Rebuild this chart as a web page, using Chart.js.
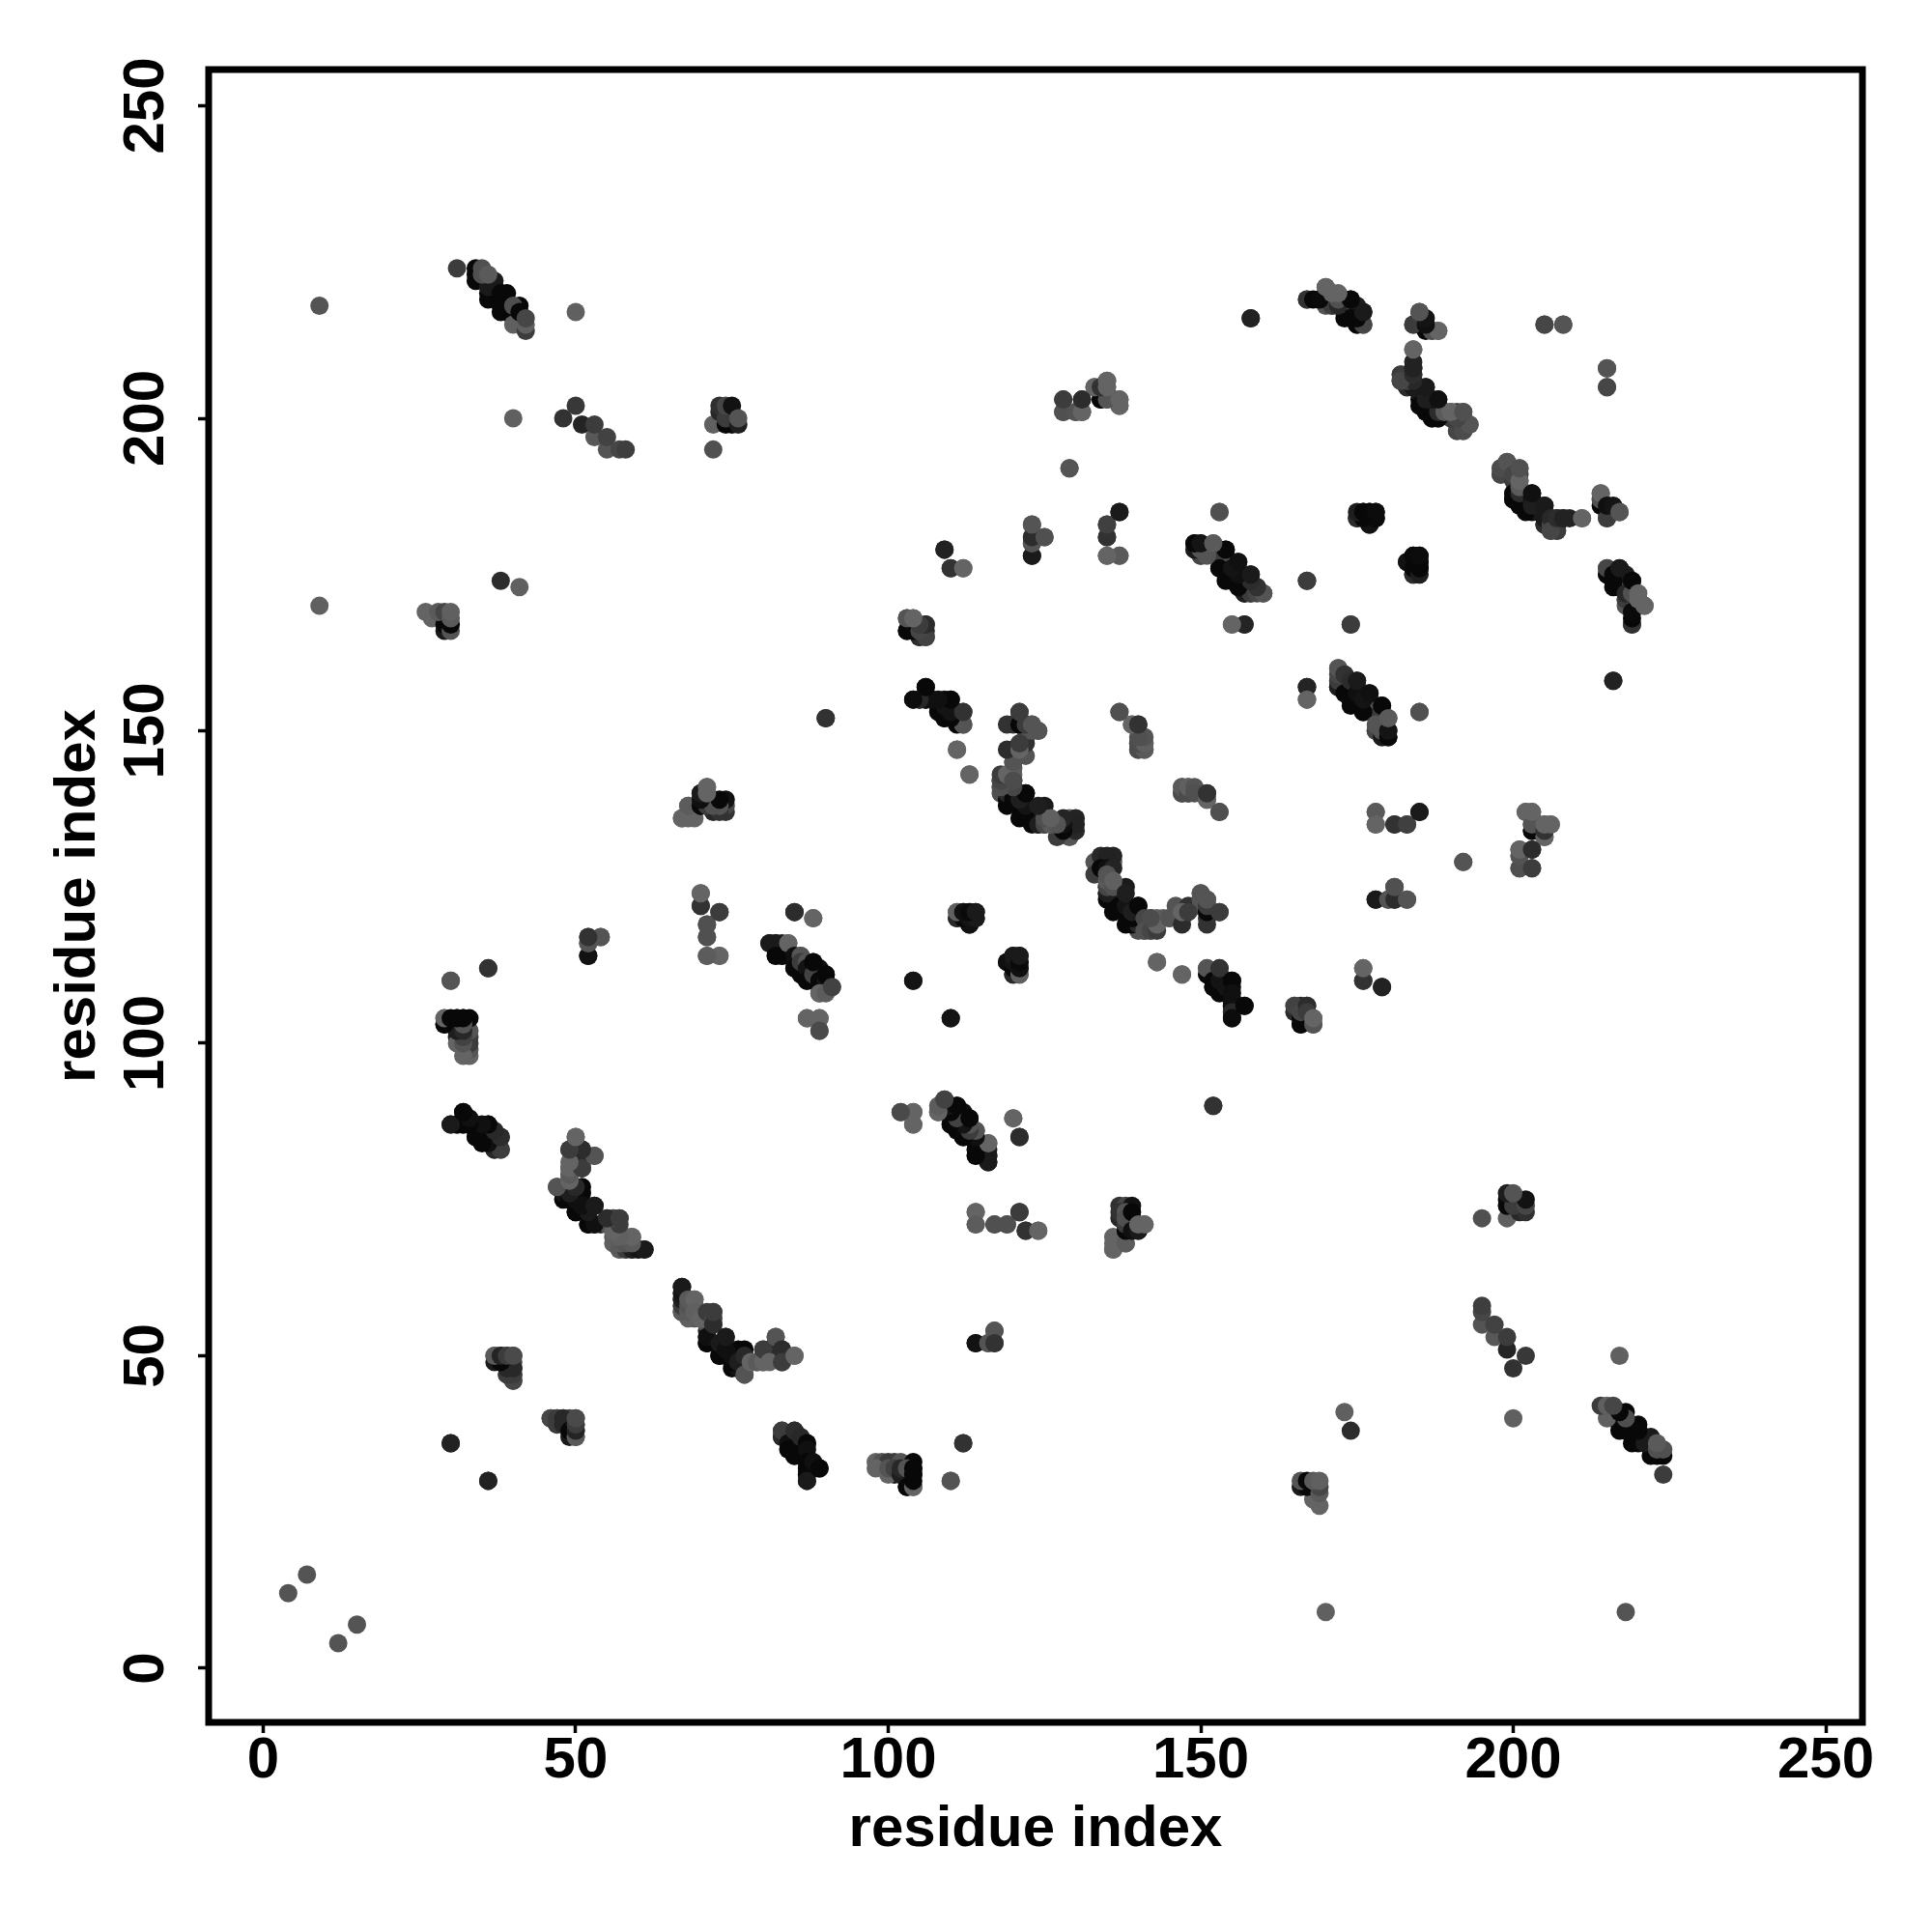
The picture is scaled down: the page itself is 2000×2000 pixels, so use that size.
<!DOCTYPE html>
<html>
<head>
<meta charset="utf-8">
<title>contact map</title>
<script src="https://cdn.jsdelivr.net/npm/chart.js@4"></script>
<style>
    html, body { margin: 0; padding: 0; background: #fff; }
</style>
</head>
<body>
<canvas id="graph" width="2000" height="2000"></canvas>
<script>
// contact pairs, one line per cluster. each pair is plotted both ways (i,j) and (j,i)
const residueA = [
    31,34,34,34,36,36,36,38,38,37,37,35,35,36,39,38,39,40,40,40,42,42,41,40,41,42,
    9,9,50,40,41,38,90,4,7,
    48,50,51,53,53,55,55,57,58,
    72,72,74,75,73,73,74,74,76,75,76,
    26,27,29,29,28,29,30,30,30,30,
    67,69,68,70,70,70,72,71,72,73,71,74,74,74,
    70,70,73,71,71,71,73,52,52,54,52,30,36,
    29,29,30,31,31,31,31,32,33,33,33,33,33,33,
    30,31,32,33,32,34,34,35,36,35,36,37,38,38,
    47,48,48,49,49,49,49,49,50,50,51,51,51,53,51,50,50,51,52,52,53,53,54,55,55,56,56,56,56,57,57,58,58,58,59,59,60,61,
    67,67,67,67,67,68,68,68,69,69,70,71,71,71,72,72,72,73,73,74,74,75,75,76,77,77,77,78,79,80,80,81,82,83,83,85,
    37,38,38,39,39,40,40,40,40,40,
    46,47,47,48,48,49,49,50,50,50,50,30,36,
    83,83,84,84,85,85,85,86,86,87,87,87,87,87,87,88,89,
    98,100,101,102,102,103,103,104,104,104,104,110,112,
    102,104,104,108,109,110,110,110,111,111,112,112,113,114,114,114,114,115,116,116,116,116,120,121,
    114,114,117,119,121,122,124,114,116,117,117,
    136,136,138,137,138,138,138,138,139,139,140,140,141,
    128,128,131,130,131,133,134,134,135,135,135,135,136,137,137,129,
    109,110,112,123,123,123,123,125,135,135,137,135,137,153,
    149,149,150,150,152,151,152,153,153,154,155,155,155,156,157,157,158,158,159,160,155,157,167,174,
    103,104,103,104,105,105,106,106,106,
    104,105,106,106,107,108,109,109,110,110,111,111,111,112,112,111,113,
    118,118,118,119,119,119,120,120,120,120,120,120,120,121,121,121,121,122,122,122,122,122,122,123,123,124,123,124,124,125,125,125,127,128,129,129,130,130,130,
    137,139,140,140,140,141,141,147,147,148,148,149,149,151,151,153,
    111,111,112,112,113,113,113,114,114,119,120,120,120,120,121,121,121,121,104,110,
    133,134,135,136,135,135,135,135,135,136,136,137,138,138,139,139,140,141,141,142,143,143,142,145,147,147,148,150,151,151,151,151,153,143,147,
    151,152,152,153,153,153,154,155,155,155,155,155,155,157,
    165,165,166,166,166,167,167,168,168,152,
    167,169,170,171,171,170,171,172,172,173,173,174,174,175,175,175,176,176,158,
    184,185,185,186,186,187,188,184,205,208,215,215,
    182,182,183,183,184,184,184,185,185,186,186,186,186,187,188,188,188,189,190,191,191,192,192,192,193,
    198,198,199,200,200,200,200,201,201,201,201,202,203,203,203,205,205,205,206,206,207,206,207,208,209,211,
    214,214,215,215,216,217,
    175,176,176,177,177,178,178,
    183,184,184,184,185,185,185,185,
    215,215,216,216,216,217,218,218,218,219,219,219,219,219,220,220,221,216,
    172,172,172,172,173,173,174,174,174,175,175,176,176,177,178,178,179,179,179,180,180,180,167,167,185,
    178,178,181,183,185,192,178,180,181,181,183,176,176,179,
    202,203,203,203,205,205,205,206,201,201,201,203,203,
    81,82,83,82,83,84,85,85,86,86,87,87,87,88,88,89,90,90,89,90,91,85,88,87,89,89
];

const residueB = [
    224,224,223,222,219,220,221,218,217,221,222,224,223,223,220,220,218,216,217,215,214,215,218,218,217,216,
    218,170,217,200,173,174,152,12,15,
    200,202,199,197,199,195,197,195,195,
    199,195,199,199,201,202,200,202,199,202,200,
    169,168,166,167,169,169,166,167,168,169,
    136,136,138,138,139,140,137,138,139,138,141,137,138,139,
    122,124,121,119,117,114,114,117,116,117,114,110,112,
    103,104,103,102,101,100,104,104,98,99,100,101,102,104,
    87,87,87,87,89,87,85,85,84,86,87,83,83,85,
    77,75,76,77,78,79,80,83,83,85,83,81,80,82,76,73,74,74,73,71,74,71,71,71,72,72,70,69,68,72,67,67,68,69,69,67,67,67,
    57,58,59,60,61,57,58,59,59,57,56,52,53,57,56,55,57,50,52,51,53,49,50,49,51,50,47,49,49,49,51,49,53,51,49,50,
    50,49,50,47,50,46,47,48,49,50,
    40,40,39,40,39,37,38,37,38,39,40,36,30,
    37,38,36,35,38,35,34,37,34,36,35,33,32,31,30,33,32,
    32,32,32,31,32,29,32,29,30,31,32,30,36,
    89,89,87,89,91,87,88,89,86,90,85,89,88,84,82,83,86,82,83,81,82,84,88,85,
    73,71,71,71,73,70,70,52,52,54,52,
    67,68,68,73,73,70,71,72,70,73,70,71,71,
    203,201,203,201,201,205,205,203,206,205,204,203,203,202,203,192,
    179,176,176,183,180,181,178,181,183,181,185,178,178,185,
    179,180,180,178,180,179,179,176,178,179,174,176,177,177,172,175,172,175,173,172,167,167,174,167,
    168,168,166,167,166,165,165,166,167,
    155,155,155,157,155,154,155,152,155,154,151,153,152,151,153,147,143,
    140,141,142,138,139,140,141,142,143,144,145,147,151,153,139,138,136,140,146,148,149,150,151,150,151,150,137,137,135,135,136,138,135,135,136,133,134,136,135,
    153,151,151,147,148,147,148,140,141,140,141,141,140,139,140,137,
    120,121,120,121,119,120,121,120,121,113,111,112,113,114,111,112,113,114,110,104,
    127,128,128,128,123,124,125,126,127,125,126,122,122,124,120,121,122,120,118,118,118,119,120,120,119,121,121,124,119,121,122,123,121,113,111,
    112,110,109,108,110,112,109,110,108,107,106,105,104,106,
    105,106,103,104,105,106,105,103,104,90,
    219,219,219,219,218,221,220,219,218,217,218,216,219,215,216,218,215,217,216,
    215,215,217,214,215,214,214,211,215,215,208,205,
    206,207,205,207,206,207,208,203,204,201,202,203,205,200,200,202,203,201,201,198,201,198,200,201,199,
    191,192,193,190,191,188,187,188,189,190,192,185,187,186,188,183,184,186,183,184,182,182,184,184,184,184,
    187,188,184,186,186,185,
    184,184,185,183,185,184,185,
    177,175,176,178,175,176,177,178,
    175,176,173,174,175,176,170,171,172,167,168,169,172,174,171,172,170,158,
    157,158,159,160,156,159,154,155,158,156,158,153,155,156,150,151,149,150,154,149,150,152,157,155,153,
    137,135,135,135,137,129,123,123,123,125,123,110,112,109,
    137,134,135,137,133,134,135,135,128,130,131,128,131,
    116,116,115,114,114,116,114,112,114,113,113,112,110,111,113,110,110,111,108,108,109,121,120,104,104,102
];

// grey level of each contact
const shade = [
    60,8,8,8,8,8,26,8,8,26,26,80,80,90,8,8,8,8,8,96,60,96,8,78,8,70,
    84,96,96,96,96,44,48,84,84,
    50,56,36,88,60,84,66,70,62,
    96,80,8,8,40,48,60,70,30,18,84,
    100,100,26,8,90,70,84,8,90,96,
    100,100,100,40,40,50,40,26,50,44,100,50,70,18,
    50,100,44,80,84,100,100,60,100,100,26,96,60,
    30,100,8,8,26,100,30,16,100,84,60,60,84,8,
    26,26,8,8,8,30,8,8,8,60,16,8,64,44,
    76,8,20,100,92,92,100,60,84,100,44,44,60,90,8,8,8,40,50,8,26,60,40,84,84,84,84,90,96,60,100,80,70,90,100,30,60,34,
    90,60,30,20,26,90,84,90,100,96,100,8,16,60,70,44,60,8,26,16,26,8,16,30,8,40,84,100,90,100,60,100,84,44,60,100,
    80,50,40,50,60,60,60,64,70,66,
    70,60,60,40,40,26,8,90,36,60,74,34,34,
    40,60,16,8,44,8,8,40,8,8,16,8,8,8,26,16,8,
    100,84,66,30,40,8,84,100,8,8,8,84,50,
    76,100,100,96,80,8,30,20,8,16,8,16,8,8,84,60,66,26,30,26,30,100,100,50,
    100,92,80,80,60,50,100,18,84,84,50,
    100,100,92,50,84,8,60,80,16,8,26,100,100,
    50,84,44,84,84,100,40,8,100,100,96,84,84,84,100,84,
    30,66,100,84,84,50,16,84,64,40,26,100,100,80,
    84,16,16,90,80,60,20,8,60,16,8,40,80,16,8,84,66,16,44,84,96,36,60,60,
    80,100,8,50,8,66,74,40,44,
    20,40,8,8,8,8,16,8,20,8,8,34,30,100,50,100,100,
    80,90,100,8,8,40,70,80,100,92,84,40,50,66,30,8,8,8,84,50,50,84,26,84,84,100,30,30,8,30,20,26,84,50,100,84,40,36,34,
    80,100,46,76,76,92,100,76,90,76,96,84,80,100,50,80,
    30,100,16,16,20,8,20,16,18,16,40,8,20,26,96,16,10,26,20,20,
    60,8,16,36,8,30,70,90,84,80,96,8,20,30,8,30,8,70,80,70,60,100,76,84,44,100,60,84,50,8,60,84,60,100,100,
    84,8,8,8,20,50,20,8,16,16,16,40,12,8,
    44,66,8,8,70,44,60,84,100,50,
    60,26,60,80,100,100,100,96,80,30,84,8,16,26,8,30,74,26,44,
    70,40,84,8,16,92,100,100,72,84,84,70,
    70,84,8,50,60,26,34,8,26,8,16,60,16,8,26,60,16,50,84,84,66,70,70,80,100,
    70,76,84,60,70,8,8,44,90,100,80,8,20,30,16,44,26,26,70,40,60,70,44,34,34,100,
    80,100,60,16,20,84,
    50,8,8,18,16,8,10,
    18,44,8,10,30,8,8,12,
    8,70,8,8,8,26,84,60,40,50,8,10,80,8,100,100,100,34,
    30,60,70,84,8,50,8,8,44,16,26,8,20,16,70,84,26,84,8,8,20,90,36,100,80,
    90,100,50,64,26,84,26,84,44,80,84,50,100,34,
    100,8,84,100,100,50,100,100,80,84,100,60,44,
    26,26,26,8,8,100,16,8,84,60,84,20,8,66,8,8,20,8,100,92,66,44,100,100,100,74
];

const xTicks = [0, 50, 100, 150, 200, 250];
const yTicks = [0, 50, 100, 150, 200, 250];
const axisLabel = 'residue index';

const font = 'Liberation Sans';

var points = [];
var colors = [];
for (var i = 0; i < residueA.length; i++) {
    var c = 'rgb(' + shade[i] + ',' + shade[i] + ',' + shade[i] + ')';
    points.push({ x: residueA[i], y: residueB[i] });
    colors.push(c);
    points.push({ x: residueB[i], y: residueA[i] });
    colors.push(c);
}

// box around the plot, chart.js only gives us the left and bottom axis lines
const frame = {
    id: 'frame',
    afterDatasetsDraw(chart) {
        const a = chart.chartArea;
        const ctx = chart.ctx;
        ctx.save();
        ctx.strokeStyle = '#000';
        ctx.lineWidth = 7;
        ctx.strokeRect(a.left, a.top, a.right - a.left, a.bottom - a.top);
        ctx.restore();
    }
};

new Chart(document.getElementById('graph'), {
    type: 'scatter',
    data: {
        datasets: [{
            data: points,
            pointBackgroundColor: colors,
            pointBorderWidth: 0,
            pointRadius: 9.5
        }]
    },
    plugins: [frame],
    options: {
        responsive: false,
        animation: false,
        layout: { padding: { top: 72, right: 72, left: 0, bottom: 0 } },
        plugins: { legend: { display: false }, tooltip: { enabled: false } },
        scales: {
            x: {
                type: 'linear',
                min: -8.73,
                max: 255.87,
                afterBuildTicks(scale) { scale.ticks = xTicks.map(v => ({ value: v })); },
                afterFit(scale) { scale.height = 217; },
                grid: { drawOnChartArea: false, drawTicks: true, tickLength: 11, tickWidth: 3.5, tickColor: '#000' },
                border: { display: false },
                ticks: {
                    color: '#000',
                    padding: -7,
                    maxRotation: 0,
                    minRotation: 0,
                    font: { family: font, size: 60, weight: 'bold' }
                },
                title: {
                    display: true,
                    text: axisLabel,
                    color: '#000',
                    padding: { top: 0, bottom: 70 },
                    font: { family: font, size: 60, weight: 'bold' }
                }
            },
            y: {
                type: 'linear',
                min: -8.66,
                max: 255.8,
                afterBuildTicks(scale) { scale.ticks = yTicks.map(v => ({ value: v })); },
                afterFit(scale) { scale.width = 216; },
                grid: { drawOnChartArea: false, drawTicks: true, tickLength: 11, tickWidth: 3.5, tickColor: '#000' },
                border: { display: false },
                ticks: {
                    color: '#000',
                    padding: 2,
                    minRotation: 90,
                    maxRotation: 90,
                    crossAlign: 'center',
                    font: { family: font, size: 60, weight: 'bold' }
                },
                title: {
                    display: true,
                    text: axisLabel,
                    color: '#000',
                    padding: { top: 45, bottom: 0 },
                    font: { family: font, size: 60, weight: 'bold' }
                }
            }
        }
    }
});

if (residueA.length !== residueB.length || residueA.length !== shade.length) {
    console.log('array lengths differ', residueA.length, residueB.length, shade.length);
}
</script>
</body>
</html>
